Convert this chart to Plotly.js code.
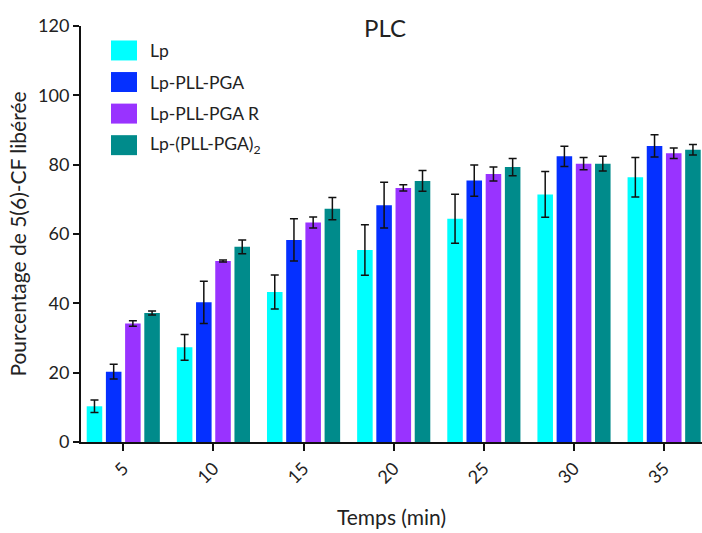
<!DOCTYPE html>
<html>
<head>
<meta charset="utf-8">
<script src="https://cdn.plot.ly/plotly-3.0.1.min.js"></script>
<style>html,body{margin:0;padding:0;background:#fff;}#chart{width:702px;height:533px;}</style>
</head>
<body>
<div id="chart"></div>
<script>
// ---- data ----
const times = [5, 10, 15, 20, 25, 30, 35];
const seriesNames = ["Lp", "Lp-PLL-PGA", "Lp-PLL-PGA R", "Lp-(PLL-PGA)<sub>2</sub>"];
const lp        = [10.3, 27.3, 43.3, 55.4, 64.4, 71.4, 76.4];
const lpErr     = [1.8, 3.7, 4.9, 7.3, 7.1, 6.6, 5.7];
const lpPll     = [20.3, 40.3, 58.3, 68.3, 75.4, 82.4, 85.4];
const lpPllErr  = [2.1, 6.1, 6.1, 6.6, 4.5, 2.9, 3.2];
const lpPllR    = [34.2, 52.2, 63.3, 73.3, 77.3, 80.3, 83.3];
const lpPllRErr = [0.8, 0.3, 1.6, 0.9, 2.0, 1.8, 1.5];
const lpPll2    = [37.2, 56.3, 67.3, 75.3, 79.3, 80.3, 84.3];
const lpPll2Err = [0.6, 2.0, 3.2, 3.0, 2.5, 2.1, 1.5];
const yTicks = [0, 20, 40, 60, 80, 100, 120];

const values = [lp, lpPll, lpPllR, lpPll2];
const errors = [lpErr, lpPllErr, lpPllRErr, lpPll2Err];
const colors = ["#00FFFF", "#0530FF", "#9933FF", "#008B8B"];
const FONT = "Lato, 'Open Sans', sans-serif";

const traces = values.map((v, i) => ({
  type: "bar",
  x: times,
  y: v,
  name: seriesNames[i],
  marker: {color: colors[i], line: {width: 0}},
  error_y: {type: "data", array: errors[i], visible: true, color: "#111", thickness: 1.5, width: 4},
  showlegend: false,
  hoverinfo: "x+y"
}));

// plot box in pixels
const L = 81, R = 702, T = 25.5, B = 442, W = 702, H = 533;
const px2x = p => (p - L) / (R - L);
const py2y = p => (B - p) / (B - T);

const shapes = [];
const annotations = [];
const legendTop = 50, legendStep = 31.6;
seriesNames.forEach((n, i) => {
  const cy = legendTop + i * legendStep;
  shapes.push({type: "rect", xref: "paper", yref: "paper",
    x0: px2x(111), x1: px2x(137), y0: py2y(cy + 10), y1: py2y(cy - 10),
    fillcolor: colors[i], line: {width: 0}});
  annotations.push({xref: "paper", yref: "paper", x: px2x(148), y: py2y(cy),
    xanchor: "left", yanchor: "middle", showarrow: false, text: n,
    font: {family: FONT, size: 17.5, color: "#222"}});
});

const layout = {
  width: W, height: H,
  margin: {l: L, r: W - R, t: T, b: H - B},
  paper_bgcolor: "#fff", plot_bgcolor: "#fff",
  font: {family: FONT, size: 17, color: "#222"},
  title: {text: "PLC", x: 385 / W, xanchor: "center", y: 1 - 29 / H, yanchor: "middle",
    font: {family: FONT, size: 24, color: "#222"}},
  barmode: "group", bargap: 0.148, bargroupgap: 0.19,
  xaxis: {range: [2.655, 37.1], tickmode: "array", tickvals: times, ticktext: times.map(String),
    tickangle: -45, ticks: "outside", ticklen: 7, tickwidth: 2, tickcolor: "#111",
    showline: true, linecolor: "#111", linewidth: 2, showgrid: false, zeroline: false,
    tickfont: {family: FONT, size: 18, color: "#222"},
    title: {text: "Temps (min)", font: {family: FONT, size: 21, color: "#222"}, standoff: 24},
    automargin: false, fixedrange: true},
  yaxis: {range: [0, 120], tickmode: "array", tickvals: yTicks, ticktext: yTicks.map(String),
    ticks: "outside", ticklen: 6, tickwidth: 2, tickcolor: "#111",
    showline: true, linecolor: "#111", linewidth: 2, showgrid: false, zeroline: false,
    tickfont: {family: FONT, size: 18, color: "#222"},
    title: {text: "Pourcentage de 5(6)-CF libérée", font: {family: FONT, size: 21, color: "#222"}, standoff: 6},
    automargin: false, fixedrange: true},
  shapes: shapes,
  annotations: annotations
};

Plotly.newPlot("chart", traces, layout, {displayModeBar: false, staticPlot: true});
</script>
</body>
</html>
